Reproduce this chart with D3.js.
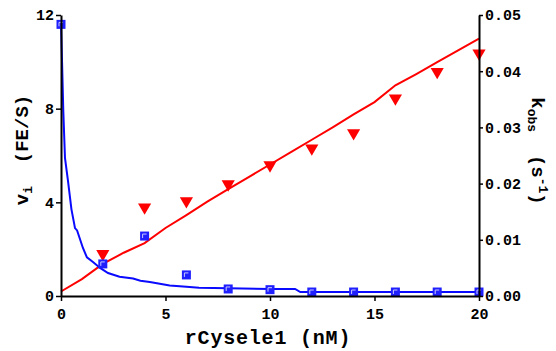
<!DOCTYPE html>
<html><head><meta charset="utf-8">
<script src="https://cdn.jsdelivr.net/npm/d3@7"></script>
<style>
body{margin:0;background:#fff;}
text{font-family:"Liberation Mono","DejaVu Sans Mono",monospace;font-weight:bold;white-space:pre;}
</style></head><body>
<svg id="c" width="556" height="351"></svg>
<script>
// ---- data ----
const xTicks = [0, 5, 10, 15, 20];
const vTicks = [0, 4, 8, 12];
const kTicks = [0, 0.01, 0.02, 0.03, 0.04, 0.05];

const vPointsX = [0, 2, 4, 6, 8, 10, 12, 14, 16, 18, 20];
const vPointsY = [11.6, 1.37, 2.56, 0.9, 0.3, 0.27, 0.17, 0.17, 0.17, 0.17, 0.17];

const kPointsX = [2, 4, 6, 8, 10, 12, 14, 16, 18, 20];
const kPointsY = [0.0075, 0.0158, 0.0169, 0.0199, 0.0233, 0.0263, 0.029, 0.0352, 0.0399, 0.0432];

const vCurveX = [0, 0.05, 0.11, 0.19, 0.33, 0.5, 0.67, 0.77, 1.05, 1.24, 1.53, 1.87, 2.25, 2.8, 3.45, 3.8, 4.25, 5.2, 6, 6.6, 8, 10, 11.2, 11.45, 12, 20];
const vCurveY = [11.6, 10, 7.9, 5.9, 4.95, 3.7, 2.9, 2.8, 2.05, 1.65, 1.45, 1.2, 0.98, 0.82, 0.75, 0.65, 0.6, 0.45, 0.4, 0.35, 0.33, 0.3, 0.3, 0.17, 0.17, 0.17];

const kCurveX = [0, 1, 2, 3, 4, 5, 6, 7, 8, 9, 10, 11, 12, 13, 14, 15, 16, 17, 18, 19, 20];
const kCurveY = [0.0008, 0.003, 0.0057, 0.0077, 0.0094, 0.0121, 0.0144, 0.0168, 0.019, 0.0212, 0.0234, 0.0256, 0.0278, 0.03, 0.0323, 0.0345, 0.0375, 0.0395, 0.0416, 0.0437, 0.0458];

// ---- layout ----
const svg = d3.select("#c");
const L = 61, R = 479, T = 15, B = 296;
const x = d3.scaleLinear().domain([0, 20]).range([L, R]);
const yV = d3.scaleLinear().domain([0, 12]).range([B, T]);
const yK = d3.scaleLinear().domain([0, 0.05]).range([B, T]);

const blue = "#0a0aff", red = "#ff0000";

// lines
const kLine = d3.line().x(d => x(d[0])).y(d => yK(d[1]));
svg.append("path").datum(d3.zip(kCurveX, kCurveY)).attr("d", kLine)
  .attr("fill", "none").attr("stroke", red).attr("stroke-width", 2);

const vLine = d3.line().x(d => x(d[0])).y(d => yV(d[1]));
svg.append("path").datum(d3.zip(vCurveX, vCurveY)).attr("d", vLine)
  .attr("fill", "none").attr("stroke", blue).attr("stroke-width", 2);

// triangles
const tri = d3.symbol().type(d3.symbolTriangle).size(75);
svg.append("g").selectAll("path").data(d3.zip(kPointsX, kPointsY)).join("path")
  .attr("d", tri)
  .attr("transform", d => `translate(${x(d[0])},${yK(d[1])}) rotate(180)`)
  .attr("fill", red);

// squares
const sq = svg.append("g").selectAll("g").data(d3.zip(vPointsX, vPointsY)).join("g")
  .attr("transform", d => `translate(${x(d[0])},${yV(d[1])})`);
sq.append("rect").attr("x", -4.5).attr("y", -4.5).attr("width", 9).attr("height", 9)
  .attr("fill", "#2020ff");
sq.append("path").attr("d", "M-2,2 V-2 H2").attr("fill", "none")
  .attr("stroke", "#c8c8ff").attr("stroke-width", 1);

// axes
function styleAxis(g) {
  g.select(".domain").attr("stroke", "#000").attr("stroke-width", 2);
  g.selectAll(".tick line").attr("stroke", "#000").attr("stroke-width", 1.5);
  g.selectAll(".tick text").attr("font-size", 15).attr("fill", "#000")
    .attr("font-family", "Liberation Mono, monospace").attr("font-weight", "bold");
}
svg.append("g").attr("transform", `translate(0,${B})`)
  .call(d3.axisBottom(x).tickValues(xTicks).tickSize(5).tickSizeOuter(0).tickPadding(7).tickFormat(d3.format("d")))
  .call(styleAxis);
svg.append("g").attr("transform", `translate(${L},0)`)
  .call(d3.axisLeft(yV).tickValues(vTicks).tickSize(5).tickSizeOuter(0).tickPadding(2).tickFormat(d3.format("d")))
  .call(styleAxis);
svg.append("g").attr("transform", `translate(${R},0)`)
  .call(d3.axisRight(yK).tickValues(kTicks).tickSize(4).tickSizeOuter(0).tickPadding(2).tickFormat(d3.format(".2f")))
  .call(styleAxis);

// titles
svg.append("text").attr("x", 268).attr("y", 344).attr("text-anchor", "middle")
  .attr("font-size", 20).attr("letter-spacing", 0.8).text("rCysele1 (nM)");

const lt = svg.append("text").attr("transform", "translate(28,150) rotate(-90)")
  .attr("text-anchor", "middle").attr("font-size", 19);
lt.append("tspan").text("v");
lt.append("tspan").attr("font-size", 13).attr("dy", 4).text("i");
lt.append("tspan").attr("dy", -4).text("  (FE/S)");

const rt = svg.append("text").attr("transform", "translate(532,151) rotate(90)")
  .attr("text-anchor", "middle").attr("font-size", 19);
rt.append("tspan").text("k");
rt.append("tspan").attr("font-size", 13).attr("dy", 4).text("obs");
rt.append("tspan").attr("dy", -4).text("  (s");
rt.append("tspan").attr("font-size", 13).attr("dy", -7).text("-1");
rt.append("tspan").attr("dy", 7).text(")");
</script>
</body></html>
